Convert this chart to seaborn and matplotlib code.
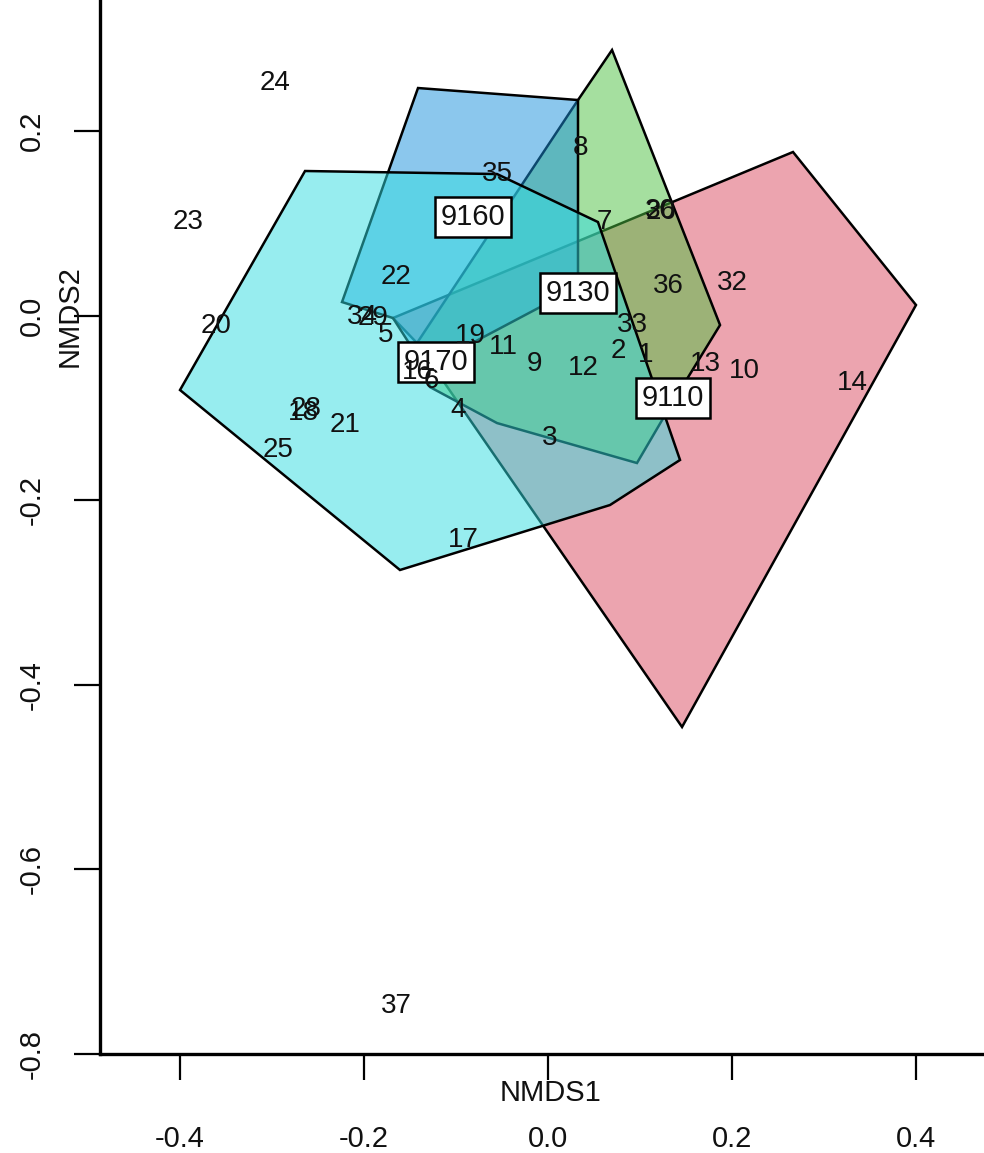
import matplotlib
matplotlib.use("Agg")
import matplotlib.pyplot as plt
from matplotlib.colors import to_rgba
import seaborn as sns

# site scores (NMDS1, NMDS2)
site_labels = ["1", "2", "3", "4", "5", "6", "7", "8", "9", "10", "11", "12",
               "13", "14", "16", "17", "18", "19", "20", "21", "22", "23", "24",
               "25", "26", "28", "29", "30", "32", "33", "34", "35", "36", "37"]
site_x = [0.1065, 0.0761, 0.0022, -0.0978, -0.1761, -0.1272, 0.0609, 0.0348,
          -0.0152, 0.2130, -0.0489, 0.0380, 0.1707, 0.3304, -0.1424, -0.0924,
          -0.2663, -0.0848, -0.3609, -0.2207, -0.1652, -0.3913, -0.2967,
          -0.2935, 0.1228, -0.2630, -0.1902, 0.1217, 0.2000, 0.0913, -0.2022,
          -0.0554, 0.1304, -0.1652]
site_y = [-0.0427, -0.0383, -0.1326, -0.1023, -0.0210, -0.0709, 0.1014, 0.1816,
          -0.0524, -0.0601, -0.0340, -0.0567, -0.0524, -0.0730, -0.0611, -0.2431,
          -0.1055, -0.0221, -0.0113, -0.1185, 0.0418, 0.1014, 0.2520,
          -0.1456, 0.1122, -0.1012, -0.0025, 0.1133, 0.0353, -0.0102, -0.0013,
          0.1535, 0.0321, -0.7480]

# convex hulls of the four habitat groups
groups = ["9110", "9130", "9160", "9170"]
hull_9110_x = [-0.1685, 0.2663, 0.4000, 0.1457, -0.1424]
hull_9110_y = [-0.0026, 0.1773, 0.0115, -0.4457, -0.0297]
hull_9130_x = [0.0326, 0.0696, 0.1870, 0.1304, 0.0967, -0.0554, -0.1283, -0.1424]
hull_9130_y = [0.2336, 0.2878, -0.0102, -0.1023, -0.1597, -0.1164, -0.0774, -0.0297]
hull_9160_x = [-0.1413, 0.0326, 0.0326, -0.1337, -0.1685, -0.2239]
hull_9160_y = [0.2466, 0.2336, 0.0310, -0.0568, -0.0026, 0.0147]
hull_9170_x = [-0.4000, -0.2641, -0.0554, 0.0543, 0.1435, 0.0674, -0.1609]
hull_9170_y = [-0.0806, 0.1567, 0.1534, 0.1014, -0.1564, -0.2052, -0.2756]

# group labels (hull centres)
group_x = [0.1359, 0.0326, -0.0815, -0.1217]
group_y = [-0.0893, 0.0245, 0.1068, -0.0503]

hull_colors = ["#DB4B61", "#4DC141", "#1991DD", "#31DDE1"]

sns.set_style("ticks")
plt.rcParams['font.family'] = ['Liberation Sans', 'DejaVu Sans']

fig = plt.figure(figsize=(9.84, 11.53), dpi=100)
ax = fig.add_axes([0.10163, 0.08586, 0.91463, 0.92281])

hulls = [(hull_9110_x, hull_9110_y), (hull_9130_x, hull_9130_y),
         (hull_9160_x, hull_9160_y), (hull_9170_x, hull_9170_y)]
for (hx, hy), col in zip(hulls, hull_colors):
    ax.fill(hx, hy, facecolor=to_rgba(col, 0.5), edgecolor="black",
            linewidth=1.8, zorder=2)

for g, gx, gy in zip(groups, group_x, group_y):
    ax.text(gx, gy, g, fontsize=21, ha="center", va="center", zorder=3,
            color="#111111",
            bbox=dict(boxstyle="square,pad=0.2", fc="white", ec="black", lw=1.8))

for lab, sx, sy in zip(site_labels, site_x, site_y):
    ax.text(sx, sy, lab, fontsize=20, ha="center", va="center",
            color="#111111", zorder=4)

ax.set_xlim(-0.48696, 0.4913)
ax.set_ylim(-0.8, 0.3528)
ax.set_xticks([-0.4, -0.2, 0.0, 0.2, 0.4])
ax.set_yticks([-0.8, -0.6, -0.4, -0.2, 0.0, 0.2])
ax.set_xticklabels(["-0.4", "-0.2", "0.0", "0.2", "0.4"])
ax.set_yticklabels(["-0.8", "-0.6", "-0.4", "-0.2", "0.0", "0.2"])

sns.despine(ax=ax)
for side in ["left", "bottom"]:
    ax.spines[side].set_linewidth(2.4)
    ax.spines[side].set_color("black")

ax.tick_params(axis="both", length=19, width=1.6, color="black",
               labelsize=21, labelcolor="#111111")
ax.tick_params(axis="x", pad=32)
ax.tick_params(axis="y", pad=20)
plt.setp(ax.get_yticklabels(), rotation=90, va="center")

ax.set_xlabel("NMDS1", fontsize=21, color="#111111")
ax.xaxis.set_label_coords(0.5, -0.0235)
ax.set_ylabel("NMDS2", fontsize=21, color="#111111", va="center")
ax.yaxis.set_label_coords(-0.0339, 0.6936)

fig.savefig("out.png", dpi=100)
